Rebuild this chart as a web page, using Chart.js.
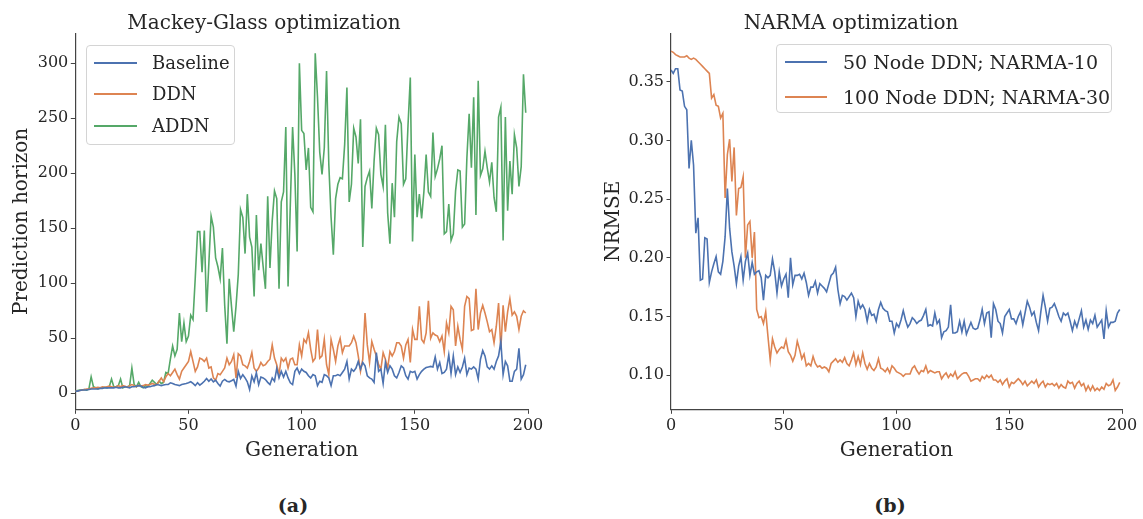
<!DOCTYPE html>
<html>
<head>
<meta charset="utf-8">
<script src="https://cdn.jsdelivr.net/npm/chart.js@4.4.1/dist/chart.umd.min.js"></script>
<style>
    body {
        margin: 0;
        width: 1143px;
        height: 519px;
        background: #fff;
        position: relative;
        overflow: hidden;
        font-family: 'DejaVu Serif', serif;
        color: #262626;
    }
    canvas { position: absolute; top: 0; }
    #chart-mg { left: 0; }
    #chart-narma { left: 580px; }
    .legend {
        position: absolute;
        border: 1px solid #d4d4d4;
        border-radius: 4px;
        background: rgba(255, 255, 255, 0.85);
        box-sizing: border-box;
    }
    .legend-line { position: absolute; height: 2px; }
    .legend-text { position: absolute; white-space: nowrap; line-height: 1; }
    .caption {
        position: absolute;
        font-weight: bold;
        font-size: 19px;
        transform: translate(-50%, -50%);
    }
</style>
</head>
<body>
<canvas id="chart-mg" width="560" height="470"></canvas>
<canvas id="chart-narma" width="563" height="470"></canvas>
<div class="caption" style="left:293px; top:505px">(a)</div>
<div class="caption" style="left:890px; top:505px">(b)</div>

<script>
// generation 0..199
const generations = [];
for (let g = 0; g < 200; g++) generations.push(g);

// Mackey-Glass: prediction horizon per generation
const baseline = [
    2, 2, 2.5, 3, 3, 3, 3.5, 4, 4, 4, 4, 4.5, 4.5, 5, 5, 5, 5, 5, 5.5, 5,
    5, 5.5, 6, 5.5, 5, 6, 6, 6.5, 7, 6.6, 5.5, 5, 6, 6, 6.6, 7, 8, 7.5, 7, 7.5,
    8, 8, 9.6, 9, 8, 7.5, 7, 8, 8.5, 9, 9.6, 10.5, 9, 7, 9.6, 7.5, 9, 11, 13.5, 11,
    13, 10.5, 12, 9, 6.6, 11, 12.6, 11, 10.5, 11.5, 12.6, 6.6, 20, 13.5, 17, 14, 10.5, 3.5, 15.7, 10.5,
    18.7, 8, 14.8, 14, 12.6, 10, 8, 14, 11, 22.6, 14, 20, 14.8, 20, 14, 9.6, 8, 20, 23, 18,
    22, 20, 19, 16, 14, 17, 16, 7, 11, 10, 17, 16, 14, 7, 16, 16, 17, 16, 19, 22,
    29, 13, 22, 20, 23, 29, 22, 28, 25, 16, 14, 13, 10, 37, 20, 22, 9, 28, 19, 25,
    22, 16, 14, 19, 25, 23, 16, 13, 20, 19, 20, 13, 17, 20, 22, 23.5, 24, 24.5, 24, 33,
    22, 28, 18, 19, 22, 35, 18, 34, 17, 24, 19, 24, 32, 17, 23, 22, 24, 22, 13, 31,
    39, 34, 24, 22, 25, 22, 29, 34, 47, 17, 29, 25, 11, 11, 20, 22, 41, 13, 17, 26
];
const ddn = [
    2, 2, 2.5, 3, 3.5, 4, 4, 4.5, 5, 5, 5.5, 5, 6, 5.5, 6, 6.5, 6, 5.5, 6, 7,
    6, 7, 6.5, 5.5, 7, 8, 7, 6, 7.5, 6.6, 7, 8, 7.5, 8, 9, 8, 8, 11, 14, 10.5,
    15, 18, 16, 19, 22, 17, 13, 20, 23, 26, 29, 38, 29, 20, 24, 32, 31, 29, 32, 23,
    24, 14, 12, 18, 17, 20, 23, 32, 26, 29, 35, 14, 36, 34, 26, 25, 23, 29, 37, 23,
    20, 23, 28, 25, 26, 29, 31, 44, 32, 26, 17, 32, 29, 32, 23, 31, 32, 26, 26, 44,
    34, 49, 46, 55, 40, 29, 32, 58, 32, 34, 49, 26, 17, 49, 40, 29, 43, 50, 37, 43,
    43, 43, 46, 52, 46, 34, 20, 31, 73, 44, 28, 47, 40, 34, 26, 22, 37, 31, 23, 38,
    34, 38, 46, 46, 43, 32, 44, 49, 28, 58, 49, 49, 79, 49, 46, 55, 84, 50, 55, 53,
    52, 47, 52, 38, 64, 55, 79, 76, 43, 61, 49, 40, 79, 88, 86, 57, 58, 95, 58, 73,
    80, 73, 65, 56, 58, 46, 61, 82, 40, 80, 56, 74, 86, 71, 74, 70, 58, 70, 75, 73
];
const addn = [
    2, 2.5, 3, 3, 3.5, 3, 4, 15, 6, 5, 4, 5, 5, 5.5, 5, 6, 13, 6, 6, 7,
    13, 5, 6, 6, 7, 23, 8, 6, 10, 6, 5, 7, 6, 9, 12, 10, 8, 11, 9, 10,
    19, 18, 31, 43, 34, 40, 73, 47, 64, 47, 52, 71, 67, 105, 147, 147, 110, 148, 74, 118,
    161, 151, 123, 115, 104, 132, 80, 45, 104, 79, 56, 79, 108, 167, 160, 127, 181, 142, 133, 88,
    162, 112, 136, 115, 95, 179, 114, 157, 184, 177, 95, 174, 183, 242, 97, 172, 242, 199, 129, 300,
    239, 236, 203, 223, 169, 165, 309, 269, 219, 199, 223, 293, 208, 160, 126, 177, 190, 196, 195, 226,
    278, 174, 190, 241, 233, 209, 249, 133, 188, 196, 202, 168, 211, 241, 235, 199, 188, 244, 164, 136,
    191, 160, 229, 251, 245, 190, 195, 244, 287, 138, 217, 160, 181, 159, 183, 217, 183, 179, 237, 197,
    204, 213, 225, 145, 147, 172, 139, 145, 184, 203, 202, 151, 154, 214, 254, 205, 269, 162, 284, 198,
    204, 220, 205, 192, 210, 178, 165, 251, 260, 139, 251, 166, 211, 181, 235, 223, 188, 206, 290, 255
];

// NARMA: NRMSE per generation
const narma10 = [
    .360, .357, .361, .361, .343, .342, .329, .326, .276, .300, .279, .221, .234, .181, .182, .217, .216, .179, .188, .195,
    .201, .188, .186, .197, .218, .259, .225, .205, .193, .178, .193, .201, .181, .197, .204, .185, .196, .186, .188, .189,
    .183, .164, .185, .183, .185, .199, .188, .170, .188, .176, .182, .186, .166, .200, .177, .185, .185, .186, .182, .187,
    .179, .168, .175, .175, .180, .170, .178, .176, .174, .171, .178, .185, .187, .192, .173, .161, .168, .167, .164, .167,
    .170, .166, .150, .163, .157, .160, .156, .146, .156, .151, .152, .146, .156, .162, .157, .155, .154, .146, .146, .136,
    .144, .141, .147, .155, .147, .141, .144, .149, .147, .144, .146, .147, .151, .156, .142, .143, .142, .153, .144, .147,
    .132, .137, .138, .141, .160, .136, .136, .137, .146, .137, .146, .135, .140, .145, .140, .139, .140, .147, .156, .144,
    .153, .154, .132, .161, .156, .146, .144, .136, .150, .153, .156, .148, .148, .144, .150, .154, .143, .153, .163, .158,
    .151, .154, .145, .138, .154, .168, .158, .146, .157, .158, .161, .156, .150, .146, .153, .151, .153, .146, .138, .146,
    .141, .148, .155, .141, .147, .139, .147, .144, .151, .141, .144, .147, .131, .155, .141, .145, .145, .146, .153, .156
];
const narma30 = [
    .376, .375, .373, .372, .371, .371, .371, .372, .370, .369, .370, .369, .367, .365, .363, .361, .359, .357, .336, .339,
    .330, .329, .319, .323, .251, .288, .301, .265, .294, .236, .259, .260, .269, .200, .228, .231, .200, .222, .156, .149,
    .150, .144, .154, .133, .113, .131, .124, .119, .122, .124, .123, .130, .120, .117, .112, .117, .129, .122, .114, .118,
    .108, .110, .108, .116, .110, .107, .108, .106, .107, .106, .103, .110, .112, .114, .111, .113, .111, .115, .110, .108,
    .113, .119, .109, .116, .109, .119, .110, .105, .110, .106, .104, .107, .114, .106, .105, .103, .106, .102, .108, .106,
    .103, .102, .101, .099, .101, .101, .101, .106, .108, .104, .101, .104, .103, .108, .102, .104, .103, .102, .103, .103,
    .097, .100, .102, .098, .101, .099, .103, .097, .099, .101, .102, .102, .099, .095, .096, .097, .097, .095, .099, .097,
    .100, .098, .100, .096, .096, .094, .096, .092, .095, .097, .090, .094, .093, .095, .097, .095, .092, .095, .091, .093,
    .095, .093, .096, .090, .093, .095, .090, .093, .092, .093, .091, .093, .089, .092, .090, .089, .095, .093, .094, .089,
    .093, .095, .091, .093, .087, .091, .087, .091, .087, .089, .087, .090, .088, .093, .091, .092, .096, .087, .090, .094
];

const mgTicks = [0, 50, 100, 150, 200, 250, 300];
const narmaTicks = [0.10, 0.15, 0.20, 0.25, 0.30, 0.35];
const genTicks = [0, 50, 100, 150, 200];

const colors = { blue: '#4c72b0', orange: '#dd8452', green: '#55a868' };
const FONT = 'DejaVu Serif';
const TEXT = '#262626';
const SPINE = '#444444';

Chart.defaults.font.family = FONT;
Chart.defaults.color = TEXT;

function lineSet(label, data, color) {
    return {
        label: label,
        data: data,
        borderColor: color,
        backgroundColor: color,
        borderWidth: 1.6,
        pointRadius: 0,
        tension: 0,
        fill: false
    };
}

function axisStyle() {
    return {
        grid: { display: true, drawOnChartArea: false, drawTicks: true, tickLength: 4.5, tickColor: SPINE, tickWidth: 1 },
        border: { display: true, color: SPINE, width: 1.2 }
    };
}

function makeOptions(cfg) {
    return {
        responsive: false,
        animation: false,
        devicePixelRatio: 1,
        layout: { padding: { left: 0, right: cfg.padRight, top: 0, bottom: 0 } },
        plugins: {
            legend: { display: false },
            tooltip: { enabled: false },
            title: {
                display: true,
                text: cfg.title,
                color: TEXT,
                font: { family: FONT, size: 20, weight: 'normal', lineHeight: 1.0 },
                padding: { top: 13.5, bottom: 0 }
            }
        },
        scales: {
            x: {
                type: 'linear',
                min: 0,
                max: 200,
                ...axisStyle(),
                afterBuildTicks: (scale) => { scale.ticks = genTicks.map(v => ({ value: v })); },
                afterFit: (scale) => { scale.height = 470 - 409.3; },
                ticks: { font: { size: 16 }, color: TEXT, padding: 2.5, maxRotation: 0 },
                title: { display: true, text: 'Generation', color: TEXT, font: { size: 20 }, padding: { top: 0, bottom: 7 } }
            },
            y: {
                type: 'linear',
                min: cfg.yMin,
                max: cfg.yMax,
                ...axisStyle(),
                afterBuildTicks: (scale) => { scale.ticks = cfg.yTicks.map(v => ({ value: v })); },
                afterFit: (scale) => { scale.width = cfg.yWidth; },
                ticks: { font: { size: 16 }, color: TEXT, padding: 2.5, callback: cfg.yFormat },
                title: { display: true, text: cfg.yTitle, color: TEXT, font: { size: 20 }, padding: { top: cfg.yTitlePad, bottom: 0 } }
            }
        }
    };
}

new Chart(document.getElementById('chart-mg'), {
    type: 'line',
    data: {
        labels: generations,
        datasets: [
            lineSet('Baseline', baseline, colors.blue),
            lineSet('DDN', ddn, colors.orange),
            lineSet('ADDN', addn, colors.green)
        ]
    },
    options: makeOptions({
        title: 'Mackey-Glass optimization',
        padRight: 32,
        yMin: -14.5,
        yMax: 327,
        yTicks: mgTicks,
        yWidth: 75.3,
        yTitle: 'Prediction horizon',
        yTitlePad: 10,
        yFormat: (v) => String(v)
    })
});

new Chart(document.getElementById('chart-narma'), {
    type: 'line',
    data: {
        labels: generations,
        datasets: [
            lineSet('50 Node DDN; NARMA-10', narma10, colors.blue),
            lineSet('100 Node DDN; NARMA-30', narma30, colors.orange)
        ]
    },
    options: makeOptions({
        title: 'NARMA optimization',
        padRight: 21,
        yMin: 0.071,
        yMax: 0.391,
        yTicks: narmaTicks,
        yWidth: 91,
        yTitle: 'NRMSE',
        yTitlePad: 22,
        yFormat: (v) => v.toFixed(2)
    })
});

// legends sit inside the axes, built as html boxes
function buildLegend(box, items) {
    const el = document.createElement('div');
    el.className = 'legend';
    el.style.left = box.left + 'px';
    el.style.top = box.top + 'px';
    el.style.width = box.width + 'px';
    el.style.height = box.height + 'px';
    items.forEach((item, i) => {
        const cy = Math.round(box.firstRow + i * box.rowGap);
        const line = document.createElement('div');
        line.className = 'legend-line';
        line.style.left = box.lineLeft + 'px';
        line.style.width = box.lineWidth + 'px';
        line.style.top = (cy - 1) + 'px';
        line.style.background = item.color;
        el.appendChild(line);

        const txt = document.createElement('div');
        txt.className = 'legend-text';
        txt.style.left = box.textLeft + 'px';
        txt.style.top = (cy - box.fontSize / 2) + 'px';
        txt.style.fontSize = box.fontSize + 'px';
        txt.textContent = item.label;
        el.appendChild(txt);
    });
    document.body.appendChild(el);
}

buildLegend(
    { left: 86, top: 45, width: 149, height: 100, firstRow: 16.5, rowGap: 31.5, lineLeft: 7, lineWidth: 43, textLeft: 65, fontSize: 18 },
    [
        { label: 'Baseline', color: colors.blue },
        { label: 'DDN', color: colors.orange },
        { label: 'ADDN', color: colors.green }
    ]
);

buildLegend(
    { left: 776, top: 44, width: 336, height: 69, firstRow: 17, rowGap: 35, lineLeft: 8, lineWidth: 42, textLeft: 66, fontSize: 19 },
    [
        { label: '50 Node DDN; NARMA-10', color: colors.blue },
        { label: '100 Node DDN; NARMA-30', color: colors.orange }
    ]
);
</script>
</body>
</html>
